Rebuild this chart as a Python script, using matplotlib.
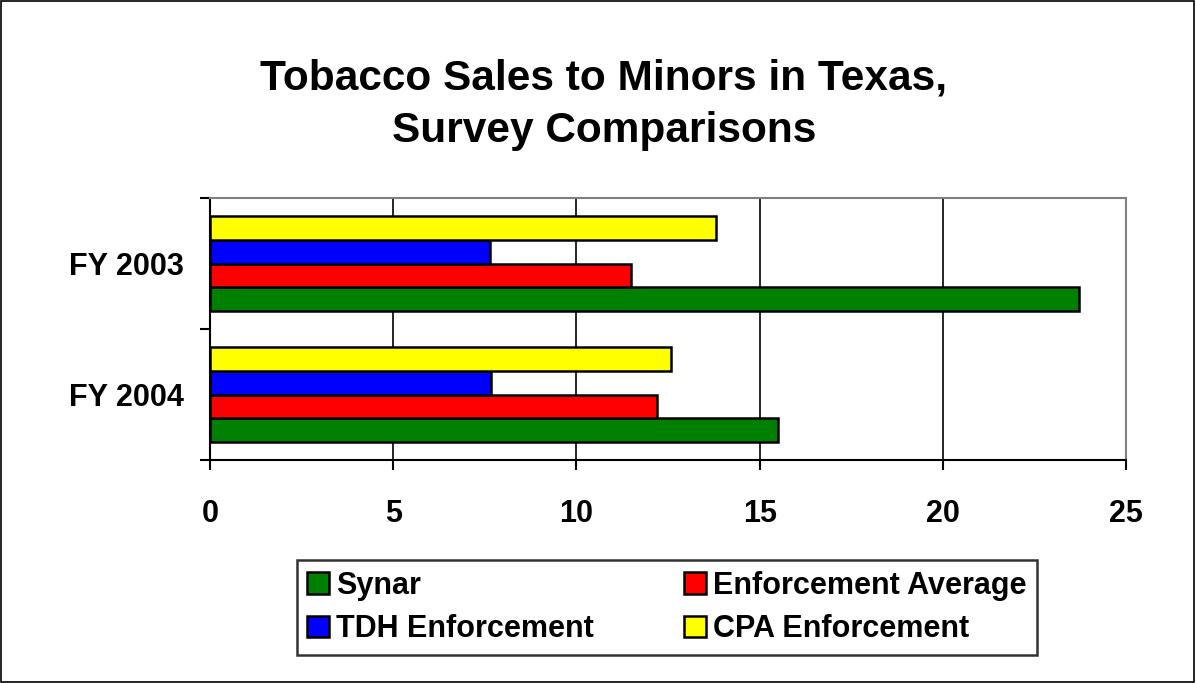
import matplotlib
matplotlib.use("Agg")
import matplotlib.pyplot as plt
from matplotlib.patches import Rectangle
import numpy as np

plt.rcParams['font.family'] = ['Liberation Sans', 'DejaVu Sans']
plt.rcParams['font.weight'] = 'bold'

categories = ["FY 2004", "FY 2003"]
series_names = ["Synar", "Enforcement Average", "TDH Enforcement", "CPA Enforcement"]
synar = [15.5, 23.7]
enf_avg = [12.2, 11.5]
tdh = [7.67, 7.63]
cpa = [12.58, 13.8]
colors = ["#008000", "#ff0000", "#0000ff", "#ffff00"]

fig = plt.figure(figsize=(11.96, 6.83), dpi=100)
fig.patches.append(Rectangle((0.001, 0.001), 0.997, 0.997, transform=fig.transFigure,
                             fill=False, edgecolor="black", lw=1.2))

ax = fig.add_axes([0.1756, 0.3265, 0.766, 0.3836])

y = np.arange(len(categories))
h = 0.183
bars = []
for i, (vals, c) in enumerate(zip([synar, enf_avg, tdh, cpa], colors)):
    b = ax.barh(y + (i - 1.5) * h, vals, height=h, color=c, edgecolor="black",
                linewidth=1.8, label=series_names[i], zorder=3)
    bars.append(b)

ax.set_xlim(0, 25)
ax.set_ylim(-0.5, 1.5)
ax.set_xticks([0, 5, 10, 15, 20, 25])
ax.set_xticklabels(["0", "5", "10", "15", "20", "25"], fontsize=22, fontweight="bold")
ax.set_yticks(y)
ax.set_yticklabels(categories, fontsize=22, fontweight="bold")
ax.tick_params(axis="y", which="major", length=0, pad=19)
ax.set_yticks([-0.5, 0.5, 1.5], minor=True)
ax.tick_params(axis="y", which="minor", length=7, width=1.5, direction="out")
ax.tick_params(axis="x", length=7, width=1.5, direction="out", pad=21)
ax.grid(axis="x", color="black", lw=1.2, zorder=1)
for s in ["left", "bottom"]:
    ax.spines[s].set_linewidth(1.5)
    ax.spines[s].set_color("black")
for s in ["top", "right"]:
    ax.spines[s].set_linewidth(1.5)
    ax.spines[s].set_color("#808080")

fig.text(0.505, 0.847, "Tobacco Sales to Minors in Texas,\nSurvey Comparisons",
         ha="center", va="center", fontsize=30.5, fontweight="bold", linespacing=1.4)

handles = [bars[0], bars[2], bars[1], bars[3]]
labels = [series_names[0], series_names[2], series_names[1], series_names[3]]
leg = fig.legend(handles, labels, ncol=2, loc="center", bbox_to_anchor=(0.5577, 0.1105),
                 fontsize=22, frameon=True, fancybox=False, edgecolor="black",
                 handlelength=0.7, handleheight=0.7, handletextpad=0.25,
                 columnspacing=2.95, borderpad=0.35, borderaxespad=0, labelspacing=0.45)
leg.get_frame().set_linewidth(1.8)

fig.savefig("out.png", dpi=100)
